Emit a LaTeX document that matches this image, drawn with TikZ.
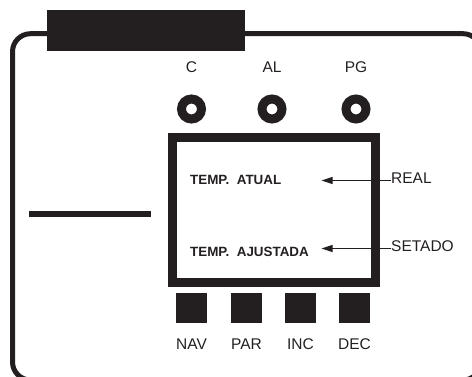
\documentclass[tikz,border=0pt]{standalone}
\usepackage{fontspec}
\setmainfont{Liberation Sans}
\usepackage{tikz}
\usetikzlibrary{arrows.meta, positioning}
\definecolor{inkblack}{RGB}{35,31,32}

\tikzset{
  lbl/.style={inner sep=0pt, font=\fontsize{15.5}{18}\selectfont},
  lcdtext/.style={inner sep=0pt, anchor=base west, font=\fontsize{13.4}{16}\selectfont\bfseries},
  led/.style={circle, draw=inkblack, fill=white, line width=9pt, minimum size=20pt, inner sep=0pt},
  key/.style={fill=inkblack, minimum width=31pt, minimum height=30pt, inner sep=0pt},
  pointer/.style={-{Triangle[length=11pt,width=7pt]}, line width=1pt}
}

\begin{document}
\begin{tikzpicture}[x=1pt, y=-1pt, inkblack]
  \useasboundingbox (0,0) rectangle (472,376);
  % outer housing, cut by the page edge
  \begin{scope}
    \clip (0,0) rectangle (472,376);
    \draw[line width=5pt, rounded corners=18pt] (12.5,33.7) rectangle (481,380);
  \end{scope}
  \node[fill=inkblack, minimum width=198pt, minimum height=41pt, inner sep=0pt] (bar) at (146,30.5) {};
  \draw[line width=5.5pt] (29,214) -- (151,214);
  % indicator lamps
  \node[led] (cled) at (191.5,109) {};
  \node[led] (alled) at (272,109) {};
  \node[led] (pgled) at (356,109) {};
  \node[lbl, above=22pt of cled] (clbl) {C};
  \node[lbl, above=22pt of alled] (allbl) {AL};
  \node[lbl, above=22pt of pgled] (pglbl) {PG};
  % display
  \node[draw=inkblack, line width=9pt, minimum width=202.5pt, minimum height=145pt, inner sep=0pt] (lcd) at (273.75,210) {};
  \node[lcdtext] (atual) at (190,184) {TEMP.\ \ ATUAL};
  \node[lcdtext] (ajust) at (190,256.5) {TEMP.\ \ AJUSTADA};
  \node[lbl, anchor=base west] (real) at (391,183) {REAL};
  \node[lbl, anchor=base west] (setado) at (391,251) {SETADO};
  \coordinate (atualtip) at (321.5,180.5);
  \coordinate (ajusttip) at (321.5,248.5);
  \draw[pointer] ([yshift=2.5pt]real.base west) -- (atualtip);
  \draw[pointer] ([yshift=2.5pt]setado.base west) -- (ajusttip);
  % keys
  \node[key] (nav) at (191.5,308) {};
  \node[key] (par) at (246.5,308) {};
  \node[key] (inc) at (300.5,308) {};
  \node[key] (dec) at (354.5,308) {};
  \node[lbl, below=15pt of nav] (navlbl) {NAV};
  \node[lbl, below=15pt of par] (parlbl) {PAR};
  \node[lbl, below=15pt of inc] (inclbl) {INC};
  \node[lbl, below=15pt of dec] (declbl) {DEC};
\end{tikzpicture}
\end{document}
